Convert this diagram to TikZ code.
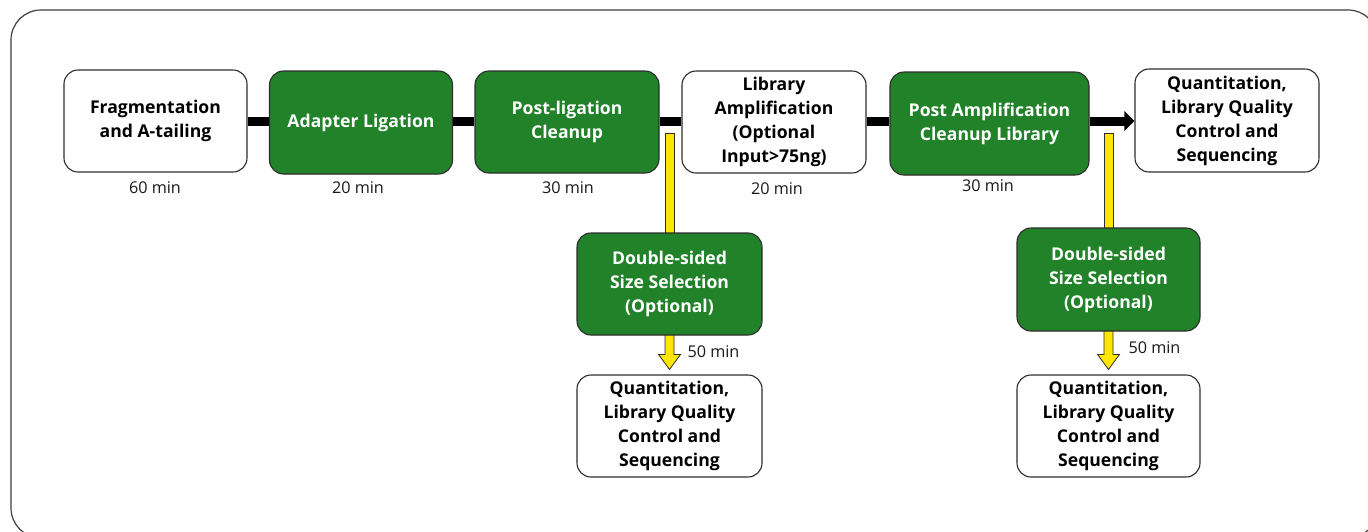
\documentclass[tikz,border=0pt]{standalone}
\usepackage{fontspec}
\setmainfont{Open Sans}
\usetikzlibrary{arrows.meta,calc,backgrounds}
\definecolor{boxgreen}{RGB}{33,130,42}
\definecolor{boxline}{RGB}{45,45,45}
\definecolor{arrowyellow}{RGB}{255,230,0}
\begin{document}
\begin{tikzpicture}[x=1pt,y=-1pt,
  stepbox/.style={draw=boxline, line width=1.1pt, rounded corners=14pt, inner sep=0pt,
    align=center, font=\fontsize{17.6}{24}\selectfont\bfseries},
  whitebox/.style={stepbox, fill=white, text=black},
  greenbox/.style={stepbox, fill=boxgreen, text=white},
  timelabel/.style={font=\fontsize{16.2}{18}\selectfont, text=black!90},
  mainline/.style={line width=9pt, black},
  yellowbar/.style={fill=arrowyellow, draw=boxline, line width=0.8pt}]
\useasboundingbox (0,0) rectangle (1368,531);
\clip (0,0) rectangle (1368,531);

% main row
\node[whitebox, minimum width=183pt, minimum height=102pt] (frag) at (155.5,121) {Fragmentation\\and A-tailing};
\node[greenbox, minimum width=183pt, minimum height=103pt] (adapt) at (361,122.5) {Adapter Ligation};
\node[greenbox, minimum width=184pt, minimum height=102pt] (postlig) at (567,122) {Post-ligation\\Cleanup};
\node[whitebox, minimum width=184pt, minimum height=102pt] (libamp) at (774,122) {Library\\Amplification\\(Optional\\Input>75ng)};
\node[greenbox, minimum width=199pt, minimum height=103pt] (postamp) at (989.5,123.5) {Post Amplification\\Cleanup Library};
\node[whitebox, minimum width=184pt, minimum height=103pt] (quant) at (1227,120.5) {Quantitation,\\Library Quality\\Control and\\Sequencing};

% branches
\node[greenbox, minimum width=185pt, minimum height=102pt] (ds1) at (669.5,284) {Double-sided\\Size Selection\\(Optional)};
\node[whitebox, minimum width=185pt, minimum height=102pt] (q1) at (669.5,426) {Quantitation,\\Library Quality\\Control and\\Sequencing};
\node[greenbox, minimum width=183pt, minimum height=103pt] (ds2) at (1108.5,279.5) {Double-sided\\Size Selection\\(Optional)};
\node[whitebox, minimum width=183pt, minimum height=102pt] (q2) at (1108.5,426) {Quantitation,\\Library Quality\\Control and\\Sequencing};

\coordinate (b1top) at (670,133);
\coordinate (b2top) at (1108.5,133);

\begin{pgfonlayer}{background}
\fill[white] (0,0) rectangle (1368,531);
\draw[black!75, line width=1.2pt, rounded corners=30pt] (11,10) rectangle (1378,538);
% main connectors
\draw[mainline] (frag.east |- 0,121) -- (adapt.west |- 0,121);
\draw[mainline] (adapt.east |- 0,121) -- (postlig.west |- 0,121);
\draw[mainline] (postlig.east |- 0,121) -- (libamp.west |- 0,121);
\draw[mainline] (libamp.east |- 0,121) -- (postamp.west |- 0,121);
% yellow branch 1
\draw[yellowbar] ($(b1top)+(-4.5,0)$) rectangle ($(ds1.north)+(4.5,2)$);
\draw[yellowbar] ($(ds1.south)+(-4.5,-2)$) -- ($(q1.north)+(-4.5,-20)$) -- ($(q1.north)+(-11,-20)$)
  -- ($(q1.north)+(0,-5)$) -- ($(q1.north)+(11,-20)$) -- ($(q1.north)+(4.5,-20)$) -- ($(ds1.south)+(4.5,-2)$);
% yellow branch 2
\draw[yellowbar] ($(b2top)+(-4.5,0)$) rectangle ($(ds2.north)+(4.5,2)$);
\draw[yellowbar] ($(ds2.south)+(-4.5,-2)$) -- ($(q2.north)+(-4.5,-20)$) -- ($(q2.north)+(-11,-20)$)
  -- ($(q2.north)+(0,-5)$) -- ($(q2.north)+(11,-20)$) -- ($(q2.north)+(4.5,-20)$) -- ($(ds2.south)+(4.5,-2)$);
\end{pgfonlayer}
\draw[mainline, -{Triangle[length=10pt,width=19pt]}] (postamp.east |- 0,121) -- (quant.west |- 0,121);

% time labels
\node[timelabel] (t1) at (155,188) {60 min};
\node[timelabel] (t2) at (358,188) {20 min};
\node[timelabel] (t3) at (568,188) {30 min};
\node[timelabel] (t4) at (777,189) {20 min};
\node[timelabel] (t5) at (988,186) {30 min};
\node[timelabel, anchor=west] (t6) at (684,352) {50 min};
\node[timelabel, anchor=west] (t7) at (1125,348) {50 min};
\end{tikzpicture}
\end{document}
